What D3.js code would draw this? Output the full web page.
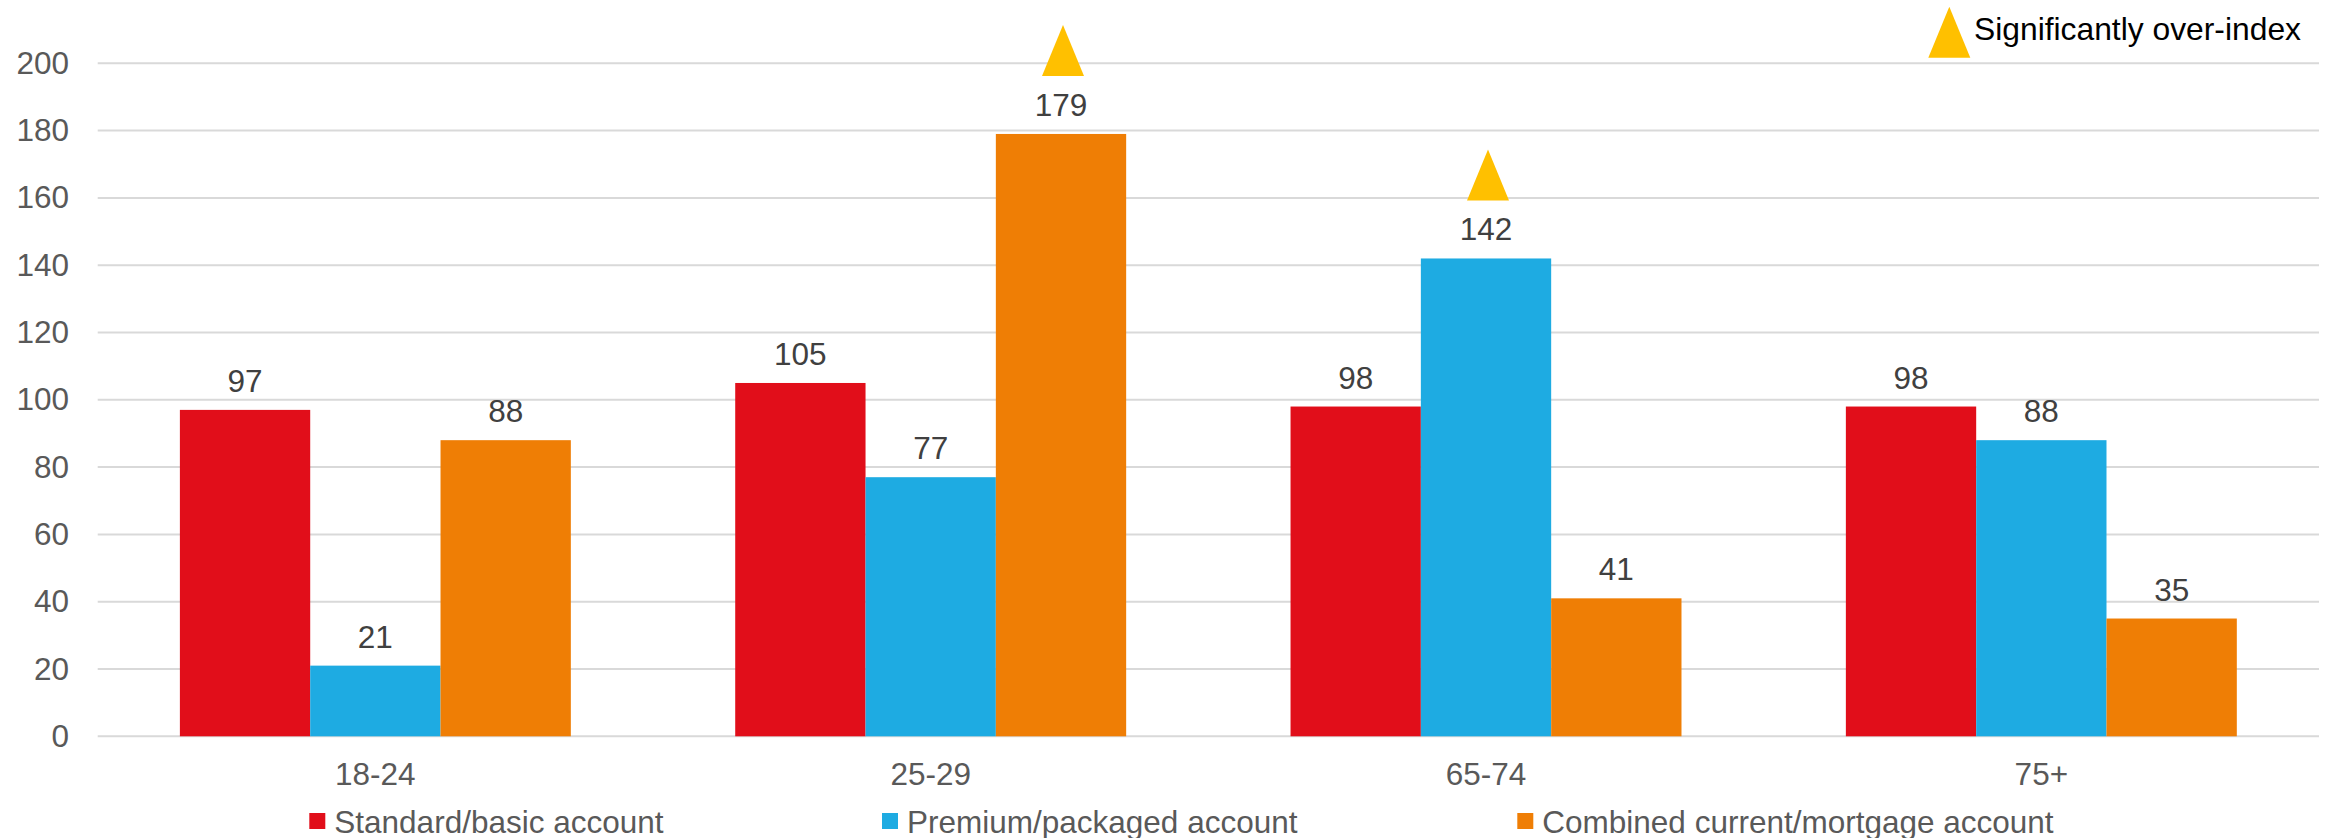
<!DOCTYPE html>
<html>
<head>
<meta charset="utf-8">
<script src="https://cdn.jsdelivr.net/npm/d3@7"></script>
<style>
  html, body { margin: 0; padding: 0; background: #fff; }
  svg { display: block; font-family: "Liberation Sans", Arial, sans-serif; }
</style>
</head>
<body>
<svg id="chart" width="2328" height="838"></svg>
<script>
// Age bands and account types
const ageGroups = ["18-24", "25-29", "65-74", "75+"];
const seriesNames = ["Standard/basic account", "Premium/packaged account", "Combined current/mortgage account"];
const seriesColors = ["#E10E1A", "#1EABE2", "#EF7E05"];

// Index values per series, one entry per age group
const standardBasic = [97, 105, 98, 98];
const premiumPackaged = [21, 77, 142, 88];
const combinedMortgage = [88, 179, 41, 35];

// Cells that significantly over-index: [age group, series index]
const overIndex = [["25-29", 2], ["65-74", 1]];

const yTicks = [0, 20, 40, 60, 80, 100, 120, 140, 160, 180, 200];
const overIndexLabel = "Significantly over-index";

const seriesValues = [standardBasic, premiumPackaged, combinedMortgage];

const svg = d3.select("#chart");
const plotLeft = 97.7, plotRight = 2319, plotTop = 63.3, plotBottom = 736.3;

const x0 = d3.scaleBand().domain(ageGroups).range([plotLeft, plotRight])
  .paddingInner(0.296).paddingOuter(0.148);
const x1 = d3.scaleBand().domain(d3.range(seriesNames.length)).range([0, x0.bandwidth()]);
const y = d3.scaleLinear().domain([0, 200]).range([plotBottom, plotTop]);

// Horizontal gridlines
svg.append("g").selectAll("line").data(yTicks).join("line")
  .attr("x1", plotLeft).attr("x2", plotRight)
  .attr("y1", d => y(d)).attr("y2", d => y(d))
  .attr("stroke", "#d9d9d9").attr("stroke-width", 2);

// Y axis labels
const yAxis = svg.append("g").attr("transform", "translate(69,0)")
  .call(d3.axisLeft(y).tickValues(yTicks).tickSize(0).tickPadding(0));
yAxis.select(".domain").remove();
yAxis.selectAll("text")
  .attr("fill", "#595959").style("font-size", "31.5px")
  .style("font-family", "'Liberation Sans', Arial, sans-serif");

// Bars
const rows = ageGroups.flatMap((g, gi) =>
  seriesValues.map((vals, si) => ({ group: g, si, value: vals[gi] })));

svg.append("g").selectAll("rect").data(rows).join("rect")
  .attr("x", d => x0(d.group) + x1(d.si))
  .attr("width", x1.bandwidth())
  .attr("y", d => y(d.value))
  .attr("height", d => y(0) - y(d.value))
  .attr("fill", d => seriesColors[d.si]);

// Value labels above bars
svg.append("g").selectAll("text").data(rows).join("text")
  .attr("x", d => x0(d.group) + x1(d.si) + x1.bandwidth() / 2)
  .attr("y", d => y(d.value) - 18)
  .attr("text-anchor", "middle")
  .attr("fill", "#404040")
  .style("font-size", "31.5px")
  .text(d => d.value);

// Over-index markers
const tri = (cx, baseY) => `M${cx},${baseY - 51}L${cx + 21},${baseY}L${cx - 21},${baseY}Z`;
svg.append("g").selectAll("path").data(overIndex).join("path")
  .attr("d", ([g, si]) => {
    const v = seriesValues[si][ageGroups.indexOf(g)];
    const cx = x0(g) + x1(si) + x1.bandwidth() / 2 + 2;
    return tri(cx, y(v) - 18 - 40);
  })
  .attr("fill", "#FFC000");

// Category labels
svg.append("g").selectAll("text").data(ageGroups).join("text")
  .attr("x", d => x0(d) + x0.bandwidth() / 2)
  .attr("y", 785)
  .attr("text-anchor", "middle")
  .attr("fill", "#595959")
  .style("font-size", "31.5px")
  .text(d => d);

// Series legend along the bottom
const legendX = [309.3, 882, 1517.3];
const legend = svg.append("g").selectAll("g").data(seriesNames).join("g")
  .attr("transform", (d, i) => `translate(${legendX[i]},0)`);
legend.append("rect").attr("x", 0).attr("y", 813).attr("width", 16).attr("height", 16)
  .attr("fill", (d, i) => seriesColors[i]);
legend.append("text").attr("x", 25).attr("y", 832.5)
  .attr("fill", "#595959").style("font-size", "31.5px").text(d => d);

// Over-index key, top right
svg.append("path").attr("d", tri(1949.3, 57.7)).attr("fill", "#FFC000");
svg.append("text").attr("x", 1974).attr("y", 39.5)
  .attr("fill", "#000").style("font-size", "31.8px").text(overIndexLabel);
</script>
</body>
</html>
